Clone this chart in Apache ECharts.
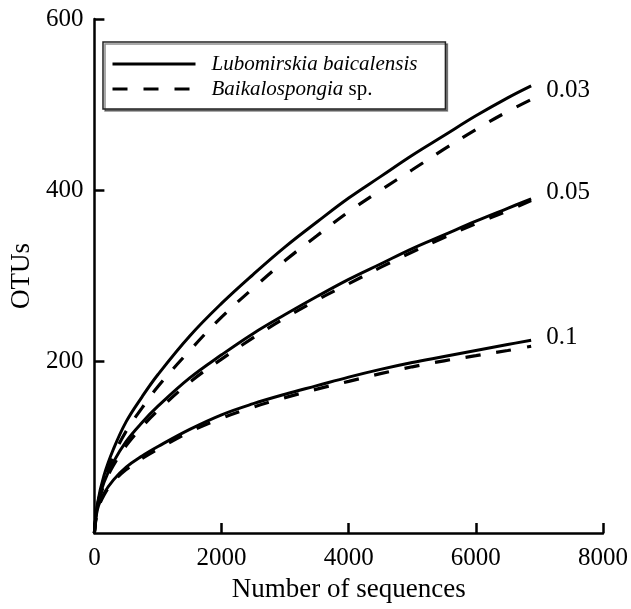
<!DOCTYPE html>
<html>
<head>
<meta charset="utf-8">
<script src="https://cdn.jsdelivr.net/npm/echarts@6/dist/echarts.min.js"></script>
<style>html,body{margin:0;padding:0;background:#fff}#c{width:631px;height:609px}</style>
</head>
<body>
<div id="c"></div>
<script>
const seqCounts = [0, 50, 150, 300, 500, 750, 1000, 1500, 2000, 2500, 3000, 3500, 4000, 4500, 5000, 5500, 6000, 6500, 6870];
const lub003 = [0, 35, 67, 98, 130, 159, 185, 230, 268, 302, 334, 363, 391, 416, 441, 464, 487, 508, 522];
const bai003 = [0, 32, 61, 90, 119, 146, 171, 213, 252, 286, 318, 347, 375, 400, 424, 448, 471, 492, 506];
const lub005 = [0, 33, 59, 83, 107, 129, 148, 181, 208, 233, 255, 276, 296, 314, 332, 348, 364, 379, 390];
const bai005 = [0, 31, 56, 79, 102, 124, 143, 176, 203, 228, 251, 272, 291, 310, 328, 345, 361, 376, 388];
const lub01 = [0, 28, 46, 62, 77, 90, 101, 121, 138, 151, 162, 172, 182, 191, 199, 206, 213, 220, 225];
const bai01 = [0, 26, 44, 60, 74, 87, 98, 118, 134, 147, 158, 168, 177, 186, 194, 201, 207, 213, 218];
const xTicks = [0, 2000, 4000, 6000, 8000];
const yTicks = [200, 400, 600];
const levelLabels = ['0.03', '0.05', '0.1'];
const speciesNames = ['Lubomirskia baicalensis', 'Baikalospongia sp.'];

const FONT = '"Liberation Serif", "Times New Roman", serif';
const pairs = arr => seqCounts.map((x, i) => [x, arr[i]]);

function solid(arr, label, dy) {
  return {
    type: 'line', name: speciesNames[0], data: pairs(arr), symbol: 'none',
    smooth: 0.4,
    lineStyle: { color: '#000', width: 3, type: 'solid' },
    itemStyle: { color: '#000' },
    endLabel: { show: true, formatter: label, color: '#000', fontFamily: FONT, fontSize: 25, distance: 15, offset: [0, dy] },
    z: 3
  };
}
function dashed(arr) {
  return {
    type: 'line', name: speciesNames[1], data: pairs(arr), symbol: 'none',
    smooth: 0.4,
    lineStyle: { color: '#000', width: 3.2, type: [15, 16] },
    itemStyle: { color: '#000' },
    z: 2
  };
}

const chart = echarts.init(document.getElementById('c'), null, { renderer: 'canvas' });
chart.setOption({
  animation: false,
  backgroundColor: '#fff',
  grid: { left: 89, right: 26, top: 19, bottom: 76, containLabel: false },
  legend: {
    data: speciesNames,
    orient: 'vertical',
    left: 103, top: 42,
    padding: [11, 28, 9, 8],
    itemGap: 3,
    itemWidth: 83, itemHeight: 14,
    backgroundColor: '#fff',
    borderColor: '#222', borderWidth: 1.5,
    shadowColor: 'rgba(0,0,0,0.45)', shadowBlur: 0, shadowOffsetX: 2, shadowOffsetY: 2,
    selectedMode: false,
    itemStyle: { opacity: 0 },
    lineStyle: { width: 3, color: '#000' },
    formatter: n => n === speciesNames[1] ? '{i|Baikalospongia} {n|sp.}' : '{i|' + n + '}',
    textStyle: {
      color: '#000', fontFamily: FONT, fontSize: 21, lineHeight: 22, padding: [0, 0, 0, 11],
      rich: {
        i: { fontStyle: 'italic', fontFamily: FONT, fontSize: 21, color: '#000' },
        n: { fontStyle: 'normal', fontFamily: FONT, fontSize: 21, color: '#000' }
      }
    }
  },
  xAxis: {
    type: 'value', min: xTicks[0], max: xTicks[xTicks.length - 1], interval: 2000,
    name: 'Number of sequences', nameLocation: 'middle', nameGap: 43,
    nameTextStyle: { color: '#000', fontFamily: FONT, fontSize: 27 },
    axisLine: { show: true, lineStyle: { color: '#000', width: 2.5 } },
    axisTick: { show: true, inside: true, length: 10, lineStyle: { color: '#000', width: 2.5 } },
    axisLabel: { color: '#000', fontFamily: FONT, fontSize: 25, margin: 13, formatter: v => String(v) },
    splitLine: { show: false }
  },
  yAxis: {
    type: 'value', min: 0, max: yTicks[yTicks.length - 1], interval: 200,
    name: 'OTUs', nameLocation: 'middle', nameGap: 56,
    nameTextStyle: { color: '#000', fontFamily: FONT, fontSize: 27 },
    axisLine: { show: true, lineStyle: { color: '#000', width: 2.5 } },
    axisTick: { show: true, inside: true, length: 10, lineStyle: { color: '#000', width: 2.5 } },
    axisLabel: { color: '#000', fontFamily: FONT, fontSize: 25, margin: 11, showMinLabel: false,
      formatter: v => yTicks.includes(v) ? String(v) : '' },
    splitLine: { show: false }
  },
  series: [
    solid(lub003, levelLabels[0], 5),
    dashed(bai003),
    solid(lub005, levelLabels[1], -6),
    dashed(bai005),
    solid(lub01, levelLabels[2], -3),
    dashed(bai01)
  ]
});
</script>
</body>
</html>
